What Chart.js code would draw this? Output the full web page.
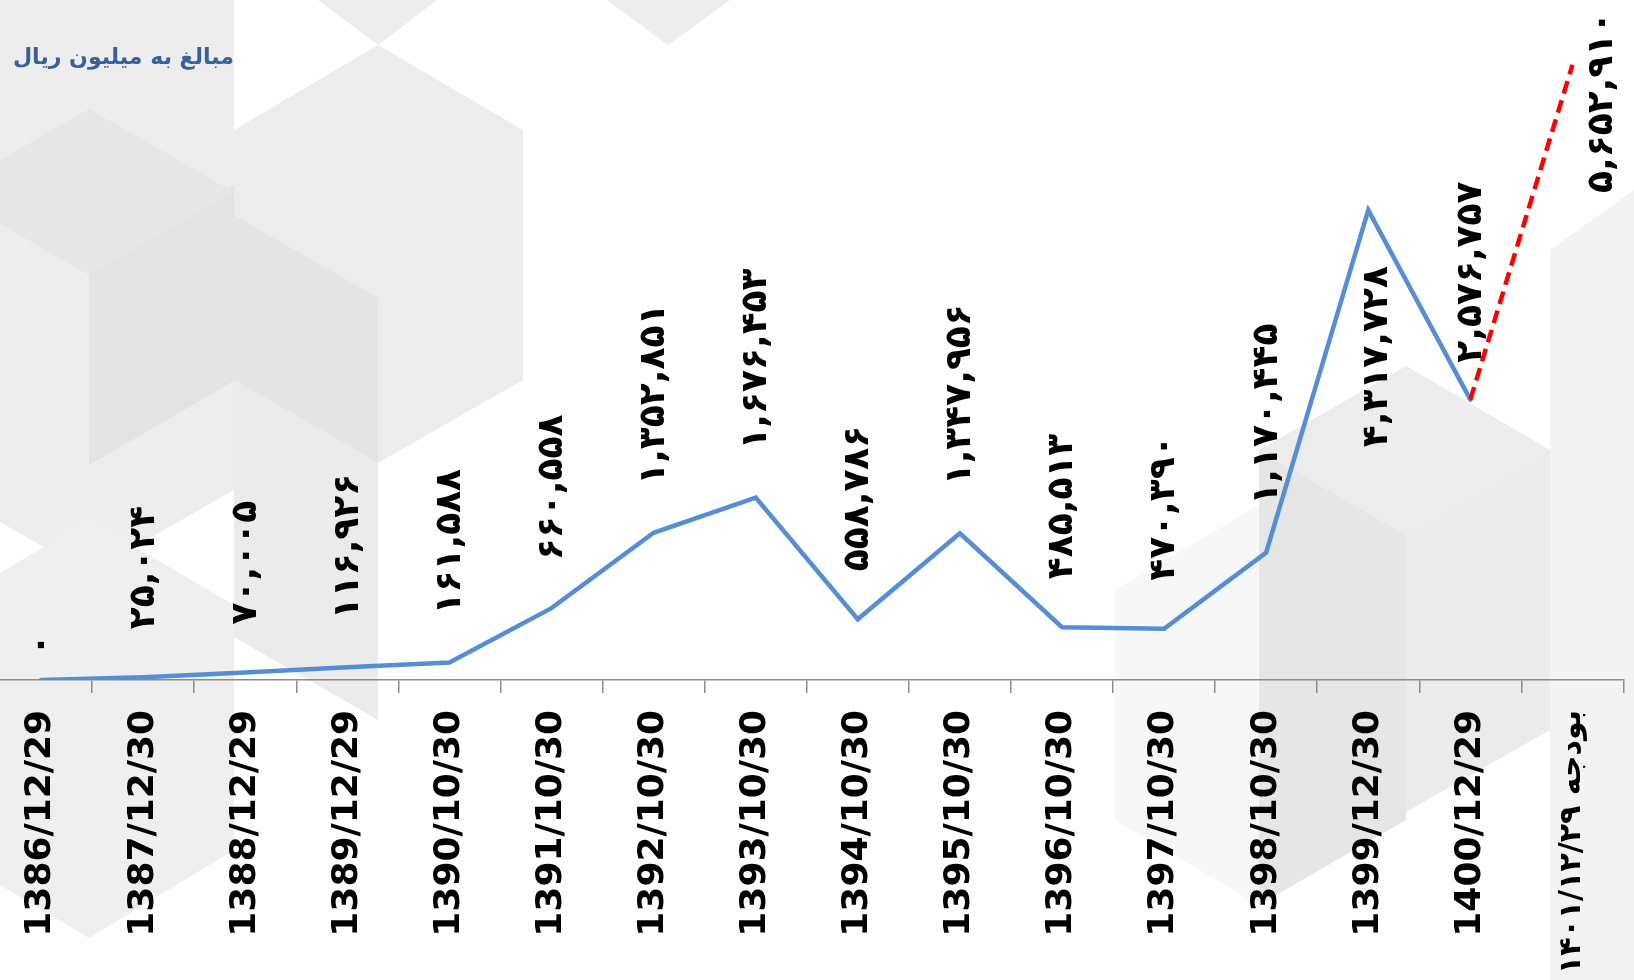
<!DOCTYPE html>
<html><head><meta charset="utf-8">
<script src="https://cdn.jsdelivr.net/npm/chart.js@4.4.1/dist/chart.umd.min.js"></script>
<style>
html,body{margin:0;padding:0;background:#fff;overflow:hidden;width:1634px;height:980px;}
#wrap{position:absolute;left:-20px;top:0;width:1654px;height:980px;}
</style></head><body>
<div id="wrap"><canvas id="c"></canvas></div>
<script>
// ---- data ----
const categories = ['1386/12/29','1387/12/30','1388/12/29','1389/12/29','1390/10/30','1391/10/30','1392/10/30','1393/10/30','1394/10/30','1395/10/30','1396/10/30','1397/10/30','1398/10/30','1399/12/30','1400/12/29','بودجه ۱۴۰۱/۱۲/۲۹'];
const values = [0,25024,70005,116926,161588,660558,1352851,1676453,558786,1347956,485513,470390,1170445,4317728,2576757,5652910];
const budgetIndex = 15;           // last point is the budget (red dashed segment)
const unitTitle = 'مبالغ به میلیون ریال';

const SHIFT = 20; // canvas starts 20px left of the page
const faDigits = '۰۱۲۳۴۵۶۷۸۹';
function toFa(v){
  return String(v).replace(/\B(?=(\d{3})+(?!\d))/g, ',').replace(/\d/g, d => faDigits[+d]);
}

// decorative background (page coordinates)
const bgShapes = [
  ['#ededed', [[0,0],[234,0],[234,490],[89,573],[0,522]]],
  ['#e3e3e3', [[89,269],[234,185],[234,381],[89,465]]],
  ['#e6e6e6', [[0,160],[89,109],[234,192],[89,275],[0,224]]],
  ['#ededed', [[318,0],[437,0],[378,45]]],
  ['#ededed', [[607,0],[730,0],[668,45]]],
  ['#ececec', [[234,130],[378,45],[523,130],[523,380],[378,463],[234,380]]],
  ['#e4e4e4', [[234,215],[378,298],[378,463],[234,380]]],
  ['#ebebeb', [[234,380],[378,463],[378,720],[234,637]]],
  ['#efefef', [[0,573],[89,520],[234,605],[234,850],[89,938],[0,885]]],
  ['#f7f7f7', [[1115,590],[1259,505],[1259,905],[1115,820]]],
  ['#e6e6e6', [[1259,450],[1406,535],[1406,820],[1259,905]]],
  ['#ececec', [[1259,450],[1406,366],[1550,450],[1406,535]]],
  ['#ebebeb', [[1406,535],[1550,450],[1550,730],[1406,812]]],
  ['#f3f3f3', [[1550,250],[1634,190],[1634,980],[1550,980]]]
];

const bgPlugin = {
  id:'bg',
  beforeDraw(chart){
    const ctx = chart.ctx;
    ctx.save();
    ctx.fillStyle = '#ffffff';
    ctx.fillRect(0,0,chart.width,chart.height);
    ctx.translate(SHIFT,0);
    bgShapes.forEach(([col, pts]) => {
      ctx.beginPath();
      pts.forEach((p,i)=> i ? ctx.lineTo(p[0],p[1]) : ctx.moveTo(p[0],p[1]));
      ctx.closePath();
      ctx.fillStyle = col;
      ctx.fill();
    });
    ctx.restore();
  },
  afterDraw(chart){
    const ctx = chart.ctx;
    ctx.save();
    ctx.font = 'bold 24px "DejaVu Sans"';
    const w = ctx.measureText(unitTitle).width;
    const size = Math.min(26, 24 * 221 / w);
    ctx.font = 'bold ' + size.toFixed(1) + 'px "DejaVu Sans"';
    ctx.fillStyle = '#3A6196';
    ctx.textAlign = 'right';
    ctx.textBaseline = 'alphabetic';
    ctx.fillText(unitTitle, 234 + SHIFT, 64);
    ctx.restore();
  }
};

const labelPlugin = {
  id:'valueLabels',
  afterDatasetsDraw(chart, args, opts){
    const meta = chart.getDatasetMeta(0);
    const ctx = chart.ctx;
    ctx.save();
    ctx.font = opts.font;
    ctx.fillStyle = '#000';
    ctx.textAlign = 'left';
    ctx.textBaseline = 'middle';
    meta.data.forEach((pt,i)=>{
      const p = opts.placement[i] || {};
      const gap = (p.gap !== undefined) ? p.gap : opts.gap;
      ctx.save();
      ctx.translate(pt.x + (p.dx || 0) + opts.dx, pt.y - gap);
      ctx.rotate(-Math.PI/2);
      ctx.fillText(toFa(values[i]), 0, 0);
      ctx.restore();
    });
    ctx.restore();
  }
};

const blue = '#558ED5';
const red = '#FF0000';
const isBudget = c => c.p1DataIndex === budgetIndex;

new Chart(document.getElementById('c'), {
  type:'line',
  data:{
    labels: categories,
    datasets:[{
      data: values,
      borderColor: blue,
      borderWidth: 4.5,
      borderCapStyle: 'round',
      borderJoinStyle: 'miter',
      pointRadius: 0,
      pointHoverRadius: 0,
      tension: 0,
      fill: false,
      segment:{
        borderColor: c => isBudget(c) ? red : undefined,
        borderDash: c => isBudget(c) ? [13,7] : undefined,
        borderCapStyle: c => isBudget(c) ? 'butt' : undefined
      }
    }]
  },
  options:{
    responsive:true,
    maintainAspectRatio:false,
    animation:false,
    events:[],
    layout:{padding:{left:10, right:10.5, top:0, bottom:0}},
    plugins:{
      legend:{display:false},
      tooltip:{enabled:false},
      title:{display:false},
      valueLabels:{
        font:'bold 36px "DejaVu Sans"',
        gap:48,
        dx:1,
        placement:{
          0:{gap:24},
          13:{gap:-237, dx:8},
          14:{gap:37},
          15:{gap:-128, dx:29}
        }
      }
    },
    scales:{
      x:{
        offset:true,
        grid:{offset:true, drawOnChartArea:false, drawTicks:true, tickLength:13, color:'#8C8C8C', lineWidth:1.5},
        border:{display:true, color:'#8C8C8C', width:1.5},
        ticks:{minRotation:90, maxRotation:90, autoSkip:false, padding:17, color:'#000',
               font: c => ({family:'"DejaVu Sans"', size: c.index === budgetIndex ? 30 : 36, weight:'bold'})},
        afterFit: s => { s.height = 300; }
      },
      y:{display:false, min:0, max:6250000}
    }
  },
  plugins:[bgPlugin, labelPlugin]
});
</script>
</body></html>
